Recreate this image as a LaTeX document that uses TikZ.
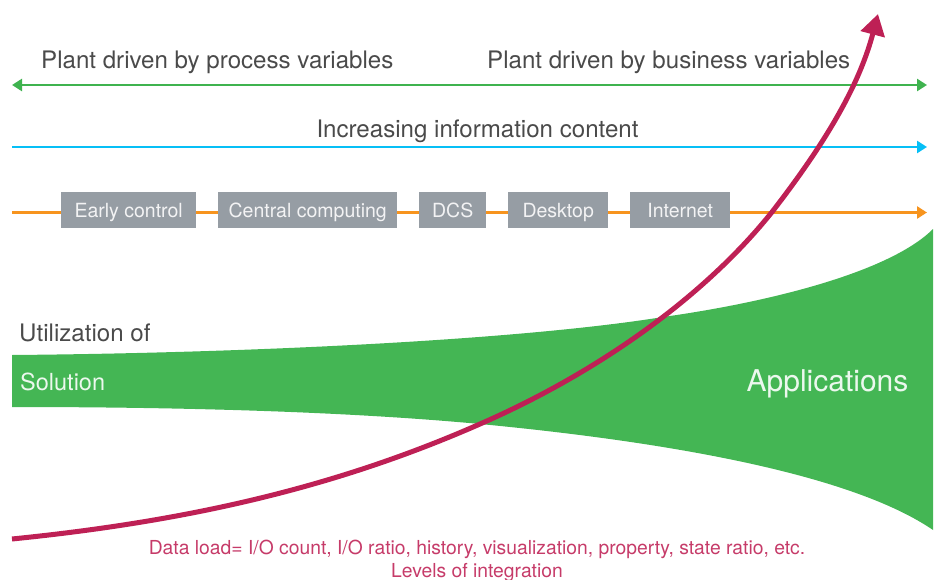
\documentclass[tikz,border=0pt]{standalone}
\usepackage{fontspec}
\setmainfont{TeX Gyre Heros}
\usetikzlibrary{arrows.meta}
\definecolor{lgreen}{HTML}{3FB34F}
\definecolor{lfill}{HTML}{44B654}
\definecolor{lblue}{HTML}{06BFF6}
\definecolor{lorange}{HTML}{F7941E}
\definecolor{lgray}{HTML}{969DA4}
\definecolor{lred}{HTML}{BE2055}
\definecolor{ltext}{HTML}{4A4A4A}
\tikzset{
 axisline/.style={line width=2.8pt,-{Triangle[length=10pt,width=12pt]}},
 era/.style={fill=lgray,text=white!88!lgray,inner xsep=0pt,inner ysep=10pt,text height=15pt,text depth=1pt,anchor=west,font=\fontsize{19.5}{22}\selectfont},
 head/.style={text=ltext,font=\fontsize{24.1}{27}\selectfont,inner sep=0pt},
 foot/.style={text=lred!88!white,font=\fontsize{19.3}{22}\selectfont,inner sep=0pt},
}
\begin{document}
\begin{tikzpicture}[x=1pt,y=-1pt]
\useasboundingbox (0,0) rectangle (936,580);
% funnel
\fill[lfill] (12,355) .. controls (250,353) and (520,340) .. (663,317)
  .. controls (770,302) and (890,272) .. (933,229)
  -- (933,530)
  .. controls (860,480) and (700,445) .. (480,424)
  .. controls (330,410) and (150,407) .. (12,407) -- cycle;
% axes
\coordinate (gl) at (12,85); \coordinate (gr) at (927,85);
\coordinate (bl) at (12,147); \coordinate (br) at (927,147);
\coordinate (ol) at (12,212.5); \coordinate (or) at (927,212.5);
\draw[axisline,{Triangle[length=10pt,width=12pt]}-{Triangle[length=10pt,width=12pt]},lgreen] (gl) -- (gr);
\draw[axisline,lblue] (bl) -- (br);
\draw[axisline,lorange] (ol) -- (or);
% eras
\node[era,minimum width=135pt] (e1) at (61,210) {Early control};
\node[era,minimum width=179pt] (e2) at (218,210) {Central computing};
\node[era,minimum width=67pt] (e3) at (419,210) {DCS};
\node[era,minimum width=100pt] (e4) at (508,210) {Desktop};
\node[era,minimum width=100pt] (e5) at (630,210) {Internet};
% labels
\node[head,anchor=base west] (t1) at (41,68.7) {Plant driven by process variables};
\node[head,anchor=base west] (t2) at (487,68.7) {Plant driven by business variables};
\node[head,anchor=base] (t3) at (477.5,137.7) {Increasing information content};
\node[head,anchor=base west] (t4) at (19,341) {Utilization of};
\node[head,anchor=base west,text=white!90!lfill,font=\fontsize{23.5}{26}\selectfont] (t5) at (20,390) {Solution};
\node[head,anchor=base,text=white!90!lfill,font=\fontsize{30}{33}\selectfont] (t6) at (827.5,391) {Applications};
\node[foot,anchor=base] (t7) at (477,554) {Data load= I/O count, I/O ratio, history, visualization, property, state ratio, etc.};
\node[foot,anchor=base] (t8) at (477,577) {Levels of integration};
% curve
\coordinate (cs) at (12,539); \coordinate (ce) at (878,14);
\draw[lred,line width=5pt,-{Triangle[length=21pt,width=24pt]}] (cs)
  .. controls (180,522) and (330,490) .. (480,424)
  .. controls (590,376) and (700,302) .. (772,212)
  .. controls (820,150) and (858,90) .. (ce);
\end{tikzpicture}
\end{document}
